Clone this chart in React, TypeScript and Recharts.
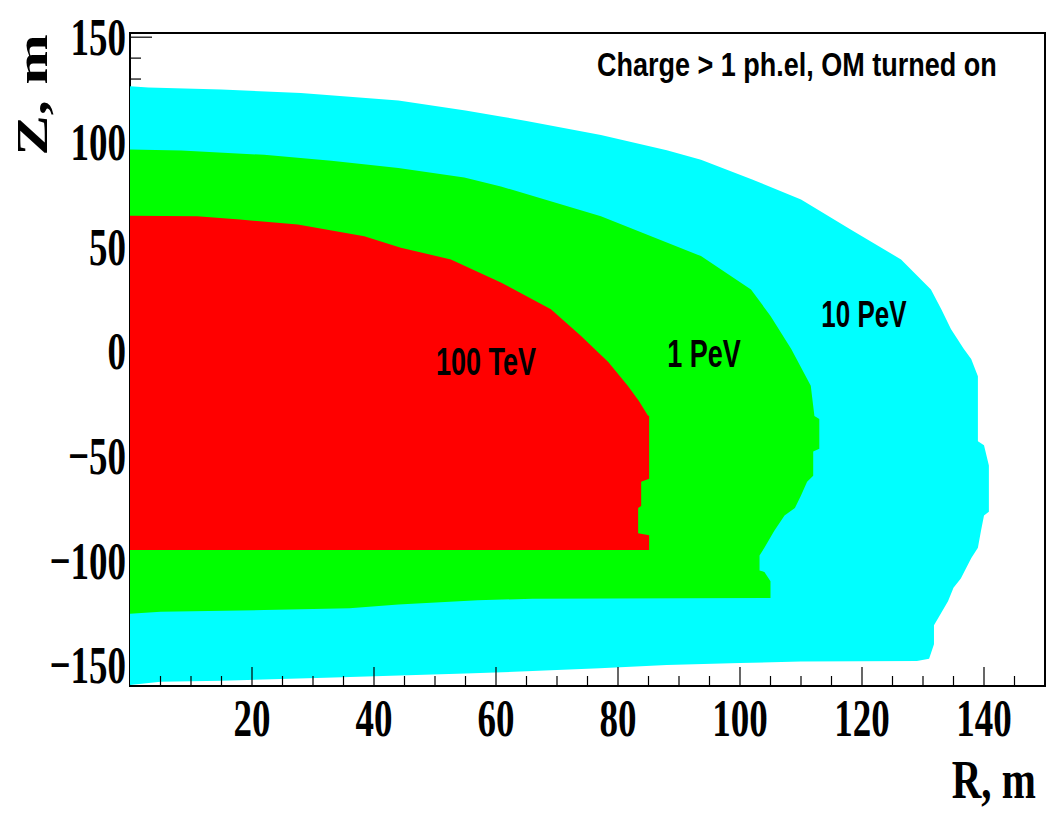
import React from 'react';
import { ComposedChart, Area, XAxis, YAxis, ReferenceArea } from 'recharts';

// 10 PeV region: outer radius R (m) versus depth Z (m)
const zCyan = [-159.5, -158, -157.5, -156, -154, -153, -151.5, -150, -149, -148.3, -148, -147, -140, -131, -125, -119.5, -113, -108.6, -99, -94, -86, -78.5, -76.7, -54.7, -45, -43, -12, -3.8, 1, 10.5, 20, 29.5, 43.8, 58, 72.4, 82, 91.4, 96, 103.3, 110, 112, 115, 119.7, 123.3, 125, 126, 126.5];
const rCyan = [0, 5, 15, 32, 55, 65, 77, 88, 100, 110, 129, 131, 131.8, 131.8, 133, 134.1, 135, 136.2, 137.9, 139, 139.5, 140, 140.8, 140.8, 140, 139, 139, 137.9, 136.7, 134.6, 133, 131.3, 126.4, 118.2, 110, 102, 93.6, 88, 77.2, 65, 61, 55, 44, 28, 15, 3, 0];

// 1 PeV region
const zGreen = [-125.5, -124.5, -123.7, -122.9, -121, -119, -118.3, -118, -110, -105.5, -104.8, -97.6, -94, -86, -78.5, -75, -69, -62.4, -59.5, -48, -46.7, -32.4, -31, -16.5, 1, 16.8, 29.5, 45.4, 64.4, 78.7, 83, 87.5, 91, 93.8, 95.9, 96.3];
const rGreen = [0, 5, 22, 36, 44, 57, 66, 105, 105, 104, 103.2, 103.2, 104, 105.6, 107.3, 109, 110, 111, 112, 112, 113, 113, 112.2, 111.6, 108.4, 105, 101.8, 93.6, 77.2, 60.8, 54.8, 44, 33, 22, 8.4, 0];

// 100 TeV region
const zRed = [-95, -88, -87, -75, -74, -62.4, -61, -31, -30.8, -23.7, -16.5, -5.2, 7.3, 20, 32.8, 43.8, 49.4, 54.9, 60.5, 62.9, 64.4, 64.7];
const rRed = [85.1, 85.1, 83.3, 83.3, 83.8, 83.8, 85.1, 85.1, 84.9, 83.4, 81.6, 78.4, 73.9, 69, 60.8, 52.6, 44.4, 38.4, 27.5, 18, 11, 0];

// axes
const rTicks = [5, 10, 15, 20, 25, 30, 35, 40, 45, 50, 55, 60, 65, 70, 75, 80, 85, 90, 95, 100, 105, 110, 115, 120, 125, 130, 135, 140, 145];
const rMajor = [20, 40, 60, 80, 100, 120, 140];
const zTicks = [-150, -140, -130, -120, -110, -100, -90, -80, -70, -60, -50, -40, -30, -20, -10, 0, 10, 20, 30, 40, 50, 60, 70, 80, 90, 100, 110, 120, 130, 140, 150];
const zMajor = [-150, -100, -50, 0, 50, 100, 150];

const regionLabels = ['100 TeV', '1 PeV', '10 PeV'];
const noteText = 'Charge > 1 ph.el, OM turned on';

type Row = { z: number; cyan?: number; green?: number; red?: number };
const rows: Row[] = [];
zCyan.forEach((z, i) => rows.push({ z, cyan: rCyan[i] }));
zGreen.forEach((z, i) => rows.push({ z, green: rGreen[i] }));
zRed.forEach((z, i) => rows.push({ z, red: rRed[i] }));
rows.sort((a, b) => a.z - b.z);

// tick marks inside the frame are hidden where the coloured regions cover the left edge
const zCoveredTop = zCyan[zCyan.length - 1];
const zCoveredBottom = zCyan[0];

const SERIF = "'Liberation Serif', 'Times New Roman', serif";
const SANS = "'Liberation Sans', Arial, Helvetica, sans-serif";

const fmt = (v: number) => (v < 0 ? '\u2212' + Math.abs(v) : String(v));

const XTick = (props: any) => {
  const { x, y, payload } = props;
  const v = payload.value as number;
  const major = rMajor.includes(v);
  return (
    <g>
      <line x1={x} x2={x} y1={y} y2={y - (major ? 19 : 10)} stroke="#000" strokeWidth={1.2} />
      {major && (
        <text
          transform={`translate(${x},${y + 32}) scale(1,1.44)`}
          textAnchor="middle"
          dy="0.34em"
          fontFamily={SERIF}
          fontWeight="bold"
          fontSize={37}
          fill="#000"
        >
          {fmt(v)}
        </text>
      )}
    </g>
  );
};

const YTick = (props: any) => {
  const { x, y, payload } = props;
  const v = payload.value as number;
  const major = zMajor.includes(v);
  const hidden = v < zCoveredTop && v > zCoveredBottom;
  return (
    <g>
      {!hidden && <line x1={x} x2={x + (major ? 22 : 11)} y1={y} y2={y} stroke="#000" strokeWidth={1.2} />}
      {major && (
        <text
          transform={`translate(${x - 4},${y}) scale(1,1.44)`}
          textAnchor="end"
          dy="0.34em"
          fontFamily={SERIF}
          fontWeight="bold"
          fontSize={37}
          fill="#000"
        >
          {fmt(v)}
        </text>
      )}
    </g>
  );
};

export default function App() {
  return (
    <div style={{ position: 'absolute', left: 0, top: 0, width: 1046, height: 814, background: '#fff', overflow: 'hidden' }}>
      <ComposedChart
        width={1046}
        height={814}
        data={rows}
        layout="vertical"
        margin={{ top: 33, right: 1, bottom: 0, left: 0 }}
      >
        <XAxis
          type="number"
          domain={[0, 150]}
          ticks={rTicks}
          interval={0}
          allowDataOverflow
          height={128}
          axisLine={false}
          tickLine={false}
          tickSize={0}
          tickMargin={0}
          tick={<XTick />}
        />
        <YAxis
          type="number"
          dataKey="z"
          domain={[-160, 152]}
          reversed
          ticks={zTicks}
          interval={0}
          allowDataOverflow
          width={130}
          axisLine={false}
          tickLine={false}
          tickSize={0}
          tickMargin={0}
          tick={<YTick />}
        />
        <ReferenceArea x1={0} x2={150} y1={-160} y2={152} fill="none" stroke="#000" strokeWidth={2} ifOverflow="visible" />
        <Area type="linear" dataKey="cyan" fill="#00ffff" fillOpacity={1} stroke="none" connectNulls isAnimationActive={false} />
        <Area type="linear" dataKey="green" fill="#00ff00" fillOpacity={1} stroke="none" connectNulls isAnimationActive={false} />
        <Area type="linear" dataKey="red" fill="#ff0000" fillOpacity={1} stroke="none" connectNulls isAnimationActive={false} />
      </ComposedChart>
      <svg width={1046} height={814} style={{ position: 'absolute', left: 0, top: 0, pointerEvents: 'none' }}>
        <text transform="translate(597,76) scale(1,1.2)" fontFamily={SANS} fontWeight="bold" fontSize={27} fill="#000">
          {noteText}
        </text>
        <text transform="translate(486,375) scale(1,1.42)" textAnchor="middle" fontFamily={SANS} fontWeight="bold" fontSize={27} fill="#000">
          {regionLabels[0]}
        </text>
        <text transform="translate(704,367) scale(1,1.42)" textAnchor="middle" fontFamily={SANS} fontWeight="bold" fontSize={27} fill="#000">
          {regionLabels[1]}
        </text>
        <text transform="translate(864,327) scale(1,1.42)" textAnchor="middle" fontFamily={SANS} fontWeight="bold" fontSize={26} fill="#000">
          {regionLabels[2]}
        </text>
        <text transform="translate(47,95) scale(1,1.38) rotate(-90)" textAnchor="middle" fontFamily={SERIF} fontWeight="bold" fontSize={44} fill="#000">
          Z, m
        </text>
        <text transform="translate(1036,798) scale(1,1.34)" textAnchor="end" fontFamily={SERIF} fontWeight="bold" fontSize={41} fill="#000">
          R, m
        </text>
      </svg>
    </div>
  );
}
